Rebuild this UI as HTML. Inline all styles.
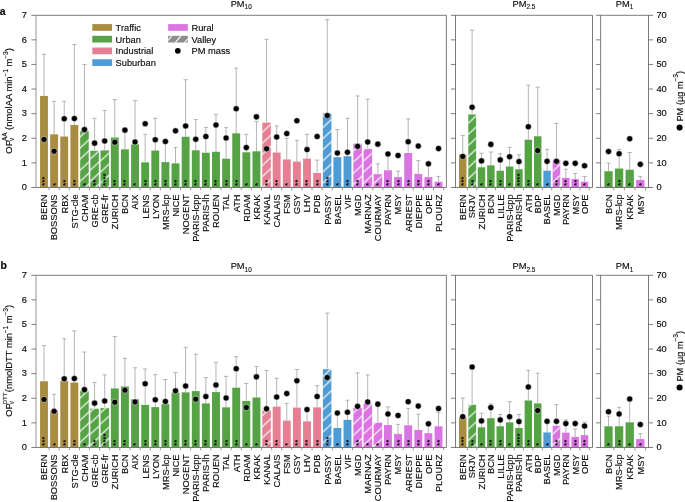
<!DOCTYPE html>
<html lang="en"><head><meta charset="utf-8"><title>Oxidative potential by site</title>
<style>html,body{margin:0;padding:0;background:#fff}body{width:685px;height:502px;overflow:hidden}svg{display:block}text{font-family:"Liberation Sans",Arial,Helvetica,sans-serif;stroke:#0c0c0c;stroke-width:0.16px}.st text{stroke:none}.sm{stroke-width:0.12px}</style></head><body>
<svg width="685" height="502" viewBox="0 0 685 502" font-size="9.7" fill="#0c0c0c">
<rect width="685" height="502" fill="#fff"/>
<g stroke="#9c9c9c" stroke-width="0.75" fill="none">
<path d="M44 95.94V54.36M41.95 54.36H46.05"/>
<path d="M54.12 134.31V101.35M52.07 101.35H56.17"/>
<path d="M64.23 136.53V101.35M62.18 101.35H66.28"/>
<path d="M74.35 124.97V44.52M72.3 44.52H76.4"/>
<path d="M84.46 130.87V64.45M82.41 64.45H86.51"/>
<path d="M94.58 150.55V118.32M92.53 118.32H96.63"/>
<path d="M104.7 150.06V110.45M102.65 110.45H106.75"/>
<path d="M114.81 137.51V99.63M112.76 99.63H116.86"/>
<path d="M124.93 149.32V130.87M122.88 130.87H126.98"/>
<path d="M135.04 144.4V100.61M132.99 100.61H137.09"/>
<path d="M145.16 162.36V134.31M143.11 134.31H147.21"/>
<path d="M155.28 150.55V118.32M153.23 118.32H157.33"/>
<path d="M165.39 162.11V140.71M163.34 140.71H167.44"/>
<path d="M175.51 163.34V147.6M173.46 147.6H177.56"/>
<path d="M185.62 136.77V79.7M183.57 79.7H187.67"/>
<path d="M195.74 150.3V119.55M193.69 119.55H197.79"/>
<path d="M205.86 152.76V127.43M203.81 127.43H207.91"/>
<path d="M215.97 151.78V114.63M213.92 114.63H218.02"/>
<path d="M226.09 158.67V127.67M224.04 127.67H228.14"/>
<path d="M236.2 133.33V68.14M234.15 68.14H238.25"/>
<path d="M246.32 152.27V134.31M244.27 134.31H248.37"/>
<path d="M256.44 151.29V121.28M254.39 121.28H258.49"/>
<path d="M266.55 122.26V39.36M264.5 39.36H268.6"/>
<path d="M276.67 152.52V125.95M274.62 125.95H278.72"/>
<path d="M286.78 159.41V138.5M284.73 138.5H288.83"/>
<path d="M296.9 161.62V140.22M294.85 140.22H298.95"/>
<path d="M307.02 158.67V134.31M304.97 134.31H309.07"/>
<path d="M317.13 172.94V160.14M315.08 160.14H319.18"/>
<path d="M327.25 113.16V19.68M325.2 19.68H329.3"/>
<path d="M337.36 157.19V129.64M335.31 129.64H339.41"/>
<path d="M347.48 156.21V118.32M345.43 118.32H349.53"/>
<path d="M357.6 143.42V95.94M355.55 95.94H359.65"/>
<path d="M367.71 148.83V99.14M365.66 99.14H369.76"/>
<path d="M377.83 173.92V163.83M375.78 163.83H379.88"/>
<path d="M387.94 170.23V154.73M385.89 154.73H389.99"/>
<path d="M398.06 177.12V171.21M396.01 171.21H400.11"/>
<path d="M408.18 153.01V118.82M406.13 118.82H410.23"/>
<path d="M418.29 173.92V160.64M416.24 160.64H420.34"/>
<path d="M428.41 177.12V164.57M426.36 164.57H430.46"/>
<path d="M438.52 181.79V176.38M436.47 176.38H440.57"/>
</g>
<rect x="40.05" y="95.94" width="7.9" height="91.51" fill="#a88c3f"/>
<rect x="50.17" y="134.31" width="7.9" height="53.14" fill="#a88c3f"/>
<rect x="60.28" y="136.53" width="7.9" height="50.92" fill="#a88c3f"/>
<rect x="70.4" y="124.97" width="7.9" height="62.48" fill="#a88c3f"/>
<rect x="79.94" y="130.87" width="9.05" height="56.58" fill="#55a345"/>
<pattern id="h10a4" width="12.07" height="11.1" patternUnits="userSpaceOnUse" patternTransform="translate(79.94 148.1)"><path d="M-12.07 22.2L24.13 -11.1M-12.07 11.1L12.07 -11.1M0 22.2L24.13 0" stroke="#f4f4f4" stroke-width="1.4" stroke-opacity="0.9" fill="none"/></pattern>
<rect x="79.94" y="130.87" width="9.05" height="56.58" fill="url(#h10a4)" stroke="#fff" stroke-width="0.5"/>
<rect x="90.05" y="150.55" width="9.05" height="36.9" fill="#55a345"/>
<pattern id="h10a5" width="12.07" height="11.1" patternUnits="userSpaceOnUse" patternTransform="translate(90.05 159.2)"><path d="M-12.07 22.2L24.13 -11.1M-12.07 11.1L12.07 -11.1M0 22.2L24.13 0" stroke="#f4f4f4" stroke-width="1.4" stroke-opacity="0.9" fill="none"/></pattern>
<rect x="90.05" y="150.55" width="9.05" height="36.9" fill="url(#h10a5)" stroke="#fff" stroke-width="0.5"/>
<rect x="100.17" y="150.06" width="9.05" height="37.39" fill="#55a345"/>
<pattern id="h10a6" width="12.07" height="11.1" patternUnits="userSpaceOnUse" patternTransform="translate(100.17 161.2)"><path d="M-12.07 22.2L24.13 -11.1M-12.07 11.1L12.07 -11.1M0 22.2L24.13 0" stroke="#f4f4f4" stroke-width="1.4" stroke-opacity="0.9" fill="none"/></pattern>
<rect x="100.17" y="150.06" width="9.05" height="37.39" fill="url(#h10a6)" stroke="#fff" stroke-width="0.5"/>
<rect x="110.86" y="137.51" width="7.9" height="49.94" fill="#55a345"/>
<rect x="120.98" y="149.32" width="7.9" height="38.13" fill="#55a345"/>
<rect x="131.09" y="144.4" width="7.9" height="43.05" fill="#55a345"/>
<rect x="141.21" y="162.36" width="7.9" height="25.09" fill="#55a345"/>
<rect x="151.33" y="150.55" width="7.9" height="36.9" fill="#55a345"/>
<rect x="161.44" y="162.11" width="7.9" height="25.34" fill="#55a345"/>
<rect x="171.56" y="163.34" width="7.9" height="24.11" fill="#55a345"/>
<rect x="181.67" y="136.77" width="7.9" height="50.68" fill="#55a345"/>
<rect x="191.79" y="150.3" width="7.9" height="37.15" fill="#55a345"/>
<rect x="201.91" y="152.76" width="7.9" height="34.69" fill="#55a345"/>
<rect x="212.02" y="151.78" width="7.9" height="35.67" fill="#55a345"/>
<rect x="222.14" y="158.67" width="7.9" height="28.78" fill="#55a345"/>
<rect x="232.25" y="133.33" width="7.9" height="54.12" fill="#55a345"/>
<rect x="242.37" y="152.27" width="7.9" height="35.18" fill="#55a345"/>
<rect x="252.49" y="151.29" width="7.9" height="36.16" fill="#55a345"/>
<rect x="262.03" y="122.26" width="9.05" height="65.19" fill="#e67f93"/>
<pattern id="h10a22" width="12.07" height="11.1" patternUnits="userSpaceOnUse" patternTransform="translate(262.03 154.55)"><path d="M-12.07 22.2L24.13 -11.1M-12.07 11.1L12.07 -11.1M0 22.2L24.13 0" stroke="#f4f4f4" stroke-width="1.4" stroke-opacity="0.9" fill="none"/></pattern>
<rect x="262.03" y="122.26" width="9.05" height="65.19" fill="url(#h10a22)" stroke="#fff" stroke-width="0.5"/>
<rect x="272.72" y="152.52" width="7.9" height="34.93" fill="#e67f93"/>
<rect x="282.83" y="159.41" width="7.9" height="28.04" fill="#e67f93"/>
<rect x="292.95" y="161.62" width="7.9" height="25.83" fill="#e67f93"/>
<rect x="303.07" y="158.67" width="7.9" height="28.78" fill="#e67f93"/>
<rect x="313.18" y="172.94" width="7.9" height="14.51" fill="#e67f93"/>
<rect x="322.72" y="113.16" width="9.05" height="74.29" fill="#4e9bd6"/>
<pattern id="h10a28" width="12.07" height="11.1" patternUnits="userSpaceOnUse" patternTransform="translate(322.72 160.9)"><path d="M-12.07 22.2L24.13 -11.1M-12.07 11.1L12.07 -11.1M0 22.2L24.13 0" stroke="#f4f4f4" stroke-width="1.4" stroke-opacity="0.9" fill="none"/></pattern>
<rect x="322.72" y="113.16" width="9.05" height="74.29" fill="url(#h10a28)" stroke="#fff" stroke-width="0.5"/>
<rect x="333.41" y="157.19" width="7.9" height="30.26" fill="#4e9bd6"/>
<rect x="343.53" y="156.21" width="7.9" height="31.24" fill="#4e9bd6"/>
<rect x="353.07" y="143.42" width="9.05" height="44.03" fill="#da74e2"/>
<pattern id="h10a31" width="12.07" height="11.1" patternUnits="userSpaceOnUse" patternTransform="translate(353.07 173.4)"><path d="M-12.07 22.2L24.13 -11.1M-12.07 11.1L12.07 -11.1M0 22.2L24.13 0" stroke="#f4f4f4" stroke-width="1.4" stroke-opacity="0.9" fill="none"/></pattern>
<rect x="353.07" y="143.42" width="9.05" height="44.03" fill="url(#h10a31)" stroke="#fff" stroke-width="0.5"/>
<rect x="363.19" y="148.83" width="9.05" height="38.62" fill="#da74e2"/>
<pattern id="h10a32" width="12.07" height="11.1" patternUnits="userSpaceOnUse" patternTransform="translate(363.19 172.4)"><path d="M-12.07 22.2L24.13 -11.1M-12.07 11.1L12.07 -11.1M0 22.2L24.13 0" stroke="#f4f4f4" stroke-width="1.4" stroke-opacity="0.9" fill="none"/></pattern>
<rect x="363.19" y="148.83" width="9.05" height="38.62" fill="url(#h10a32)" stroke="#fff" stroke-width="0.5"/>
<rect x="373.3" y="173.92" width="9.05" height="13.53" fill="#da74e2"/>
<pattern id="h10a33" width="12.07" height="11.1" patternUnits="userSpaceOnUse" patternTransform="translate(373.3 183.9)"><path d="M-12.07 22.2L24.13 -11.1M-12.07 11.1L12.07 -11.1M0 22.2L24.13 0" stroke="#f4f4f4" stroke-width="1.4" stroke-opacity="0.9" fill="none"/></pattern>
<rect x="373.3" y="173.92" width="9.05" height="13.53" fill="url(#h10a33)" stroke="#fff" stroke-width="0.5"/>
<rect x="383.99" y="170.23" width="7.9" height="17.22" fill="#da74e2"/>
<rect x="394.11" y="177.12" width="7.9" height="10.33" fill="#da74e2"/>
<rect x="404.23" y="153.01" width="7.9" height="34.44" fill="#da74e2"/>
<rect x="414.34" y="173.92" width="7.9" height="13.53" fill="#da74e2"/>
<rect x="424.46" y="177.12" width="7.9" height="10.33" fill="#da74e2"/>
<rect x="434.57" y="181.79" width="7.9" height="5.66" fill="#da74e2"/>
<g stroke="#707070" stroke-width="0.7">
<path d="M49.06 187.45v2.9"/>
<path d="M59.17 187.45v2.9"/>
<path d="M69.29 187.45v2.9"/>
<path d="M79.41 187.45v2.9"/>
<path d="M89.52 187.45v2.9"/>
<path d="M99.64 187.45v2.9"/>
<path d="M109.75 187.45v2.9"/>
<path d="M119.87 187.45v2.9"/>
<path d="M129.99 187.45v2.9"/>
<path d="M140.1 187.45v2.9"/>
<path d="M150.22 187.45v2.9"/>
<path d="M160.33 187.45v2.9"/>
<path d="M170.45 187.45v2.9"/>
<path d="M180.57 187.45v2.9"/>
<path d="M190.68 187.45v2.9"/>
<path d="M200.8 187.45v2.9"/>
<path d="M210.91 187.45v2.9"/>
<path d="M221.03 187.45v2.9"/>
<path d="M231.15 187.45v2.9"/>
<path d="M241.26 187.45v2.9"/>
<path d="M251.38 187.45v2.9"/>
<path d="M261.49 187.45v2.9"/>
<path d="M271.61 187.45v2.9"/>
<path d="M281.73 187.45v2.9"/>
<path d="M291.84 187.45v2.9"/>
<path d="M301.96 187.45v2.9"/>
<path d="M312.07 187.45v2.9"/>
<path d="M322.19 187.45v2.9"/>
<path d="M332.31 187.45v2.9"/>
<path d="M342.42 187.45v2.9"/>
<path d="M352.54 187.45v2.9"/>
<path d="M362.65 187.45v2.9"/>
<path d="M372.77 187.45v2.9"/>
<path d="M382.89 187.45v2.9"/>
<path d="M393 187.45v2.9"/>
<path d="M403.12 187.45v2.9"/>
<path d="M413.23 187.45v2.9"/>
<path d="M423.35 187.45v2.9"/>
<path d="M433.47 187.45v2.9"/>
<path d="M443.58 187.45v2.9"/>
</g>
<g class="st" font-size="7.2" font-weight="bold" letter-spacing="0.4" fill="#000">
<text transform="translate(47.45 185.78) rotate(-90)">***</text>
<text transform="translate(57.57 185.78) rotate(-90)">*</text>
<text transform="translate(67.68 185.78) rotate(-90)">**</text>
<text transform="translate(77.8 185.78) rotate(-90)">**</text>
<text transform="translate(87.91 185.78) rotate(-90)">*</text>
<text transform="translate(98.03 185.78) rotate(-90)">**</text>
<text transform="translate(108.15 185.78) rotate(-90)">****</text>
<text transform="translate(118.26 185.78) rotate(-90)">**</text>
<text transform="translate(128.38 185.78) rotate(-90)">**</text>
<text transform="translate(138.49 185.78) rotate(-90)">*</text>
<text transform="translate(148.61 185.78) rotate(-90)">**</text>
<text transform="translate(158.73 185.78) rotate(-90)">**</text>
<text transform="translate(168.84 185.78) rotate(-90)">**</text>
<text transform="translate(178.96 185.78) rotate(-90)">**</text>
<text transform="translate(189.07 185.78) rotate(-90)">**</text>
<text transform="translate(199.19 185.78) rotate(-90)">**</text>
<text transform="translate(209.31 185.78) rotate(-90)">**</text>
<text transform="translate(219.42 185.78) rotate(-90)">**</text>
<text transform="translate(229.54 185.78) rotate(-90)">**</text>
<text transform="translate(239.65 185.78) rotate(-90)">**</text>
<text transform="translate(249.77 185.78) rotate(-90)">*</text>
<text transform="translate(259.89 185.78) rotate(-90)">*</text>
<text transform="translate(270 185.78) rotate(-90)">**</text>
<text transform="translate(280.12 185.78) rotate(-90)">**</text>
<text transform="translate(290.23 185.78) rotate(-90)">*</text>
<text transform="translate(300.35 185.78) rotate(-90)">**</text>
<text transform="translate(310.47 185.78) rotate(-90)">**</text>
<text transform="translate(320.58 185.78) rotate(-90)">**</text>
<text transform="translate(330.7 185.78) rotate(-90)">***</text>
<text transform="translate(340.81 185.78) rotate(-90)">*</text>
<text transform="translate(350.93 185.78) rotate(-90)">**</text>
<text transform="translate(361.05 185.78) rotate(-90)">**</text>
<text transform="translate(371.16 185.78) rotate(-90)">*</text>
<text transform="translate(381.28 185.78) rotate(-90)">*</text>
<text transform="translate(391.39 185.78) rotate(-90)">**</text>
<text transform="translate(401.51 185.78) rotate(-90)">**</text>
<text transform="translate(411.63 185.78) rotate(-90)">**</text>
<text transform="translate(421.74 185.78) rotate(-90)">**</text>
<text transform="translate(431.86 185.78) rotate(-90)">**</text>
<text transform="translate(441.97 185.78) rotate(-90)">*</text>
</g>
<g fill="#000" stroke="#fff" stroke-width="0.5">
<circle cx="44" cy="139.48" r="3.05"/>
<circle cx="54.12" cy="151.29" r="3.05"/>
<circle cx="64.23" cy="118.82" r="3.05"/>
<circle cx="74.35" cy="118.57" r="3.05"/>
<circle cx="84.46" cy="129.64" r="3.05"/>
<circle cx="94.58" cy="143.17" r="3.05"/>
<circle cx="104.7" cy="140.96" r="3.05"/>
<circle cx="114.81" cy="142.19" r="3.05"/>
<circle cx="124.93" cy="130.13" r="3.05"/>
<circle cx="135.04" cy="141.94" r="3.05"/>
<circle cx="145.16" cy="123.74" r="3.05"/>
<circle cx="155.28" cy="139.73" r="3.05"/>
<circle cx="165.39" cy="141.45" r="3.05"/>
<circle cx="175.51" cy="130.87" r="3.05"/>
<circle cx="185.62" cy="125.95" r="3.05"/>
<circle cx="195.74" cy="139.23" r="3.05"/>
<circle cx="205.86" cy="136.53" r="3.05"/>
<circle cx="215.97" cy="124.97" r="3.05"/>
<circle cx="226.09" cy="138" r="3.05"/>
<circle cx="236.2" cy="108.73" r="3.05"/>
<circle cx="246.32" cy="147.6" r="3.05"/>
<circle cx="256.44" cy="116.85" r="3.05"/>
<circle cx="266.55" cy="148.83" r="3.05"/>
<circle cx="276.67" cy="137.02" r="3.05"/>
<circle cx="286.78" cy="133.58" r="3.05"/>
<circle cx="296.9" cy="120.78" r="3.05"/>
<circle cx="307.02" cy="149.57" r="3.05"/>
<circle cx="317.13" cy="136.53" r="3.05"/>
<circle cx="327.25" cy="115.62" r="3.05"/>
<circle cx="337.36" cy="153.01" r="3.05"/>
<circle cx="347.48" cy="152.27" r="3.05"/>
<circle cx="357.6" cy="146.37" r="3.05"/>
<circle cx="367.71" cy="141.94" r="3.05"/>
<circle cx="377.83" cy="144.15" r="3.05"/>
<circle cx="387.94" cy="153.99" r="3.05"/>
<circle cx="398.06" cy="155.47" r="3.05"/>
<circle cx="408.18" cy="141.69" r="3.05"/>
<circle cx="418.29" cy="146.12" r="3.05"/>
<circle cx="428.41" cy="163.83" r="3.05"/>
<circle cx="438.52" cy="148.58" r="3.05"/>
</g>
<g stroke="#5a5a5a" stroke-width="0.8" fill="none">
<path d="M31.4 15.3H446.4"/>
<path d="M31.4 187.45H446.4"/>
<path d="M36 15.3V187.45" stroke="#7a7a7a"/>
<path d="M446.4 15.3V187.45"/>
</g>
<g stroke="#5f5f5f" stroke-width="0.8">
<path d="M31.4 162.85H36"/>
<path d="M31.4 138.25H36"/>
<path d="M31.4 113.65H36"/>
<path d="M31.4 89.05H36"/>
<path d="M31.4 64.45H36"/>
<path d="M31.4 39.85H36"/>
</g>
<g text-anchor="end">
<text transform="translate(27 190.15) scale(0.958 1)">0</text>
<text transform="translate(27 165.55) scale(0.958 1)">1</text>
<text transform="translate(27 140.95) scale(0.958 1)">2</text>
<text transform="translate(27 116.35) scale(0.958 1)">3</text>
<text transform="translate(27 91.75) scale(0.958 1)">4</text>
<text transform="translate(27 67.15) scale(0.958 1)">5</text>
<text transform="translate(27 42.55) scale(0.958 1)">6</text>
<text transform="translate(27 17.95) scale(0.958 1)">7</text>
</g>
<g text-anchor="end">
<text transform="translate(47.35 194.45) rotate(-90) scale(0.958 1)">BERN</text>
<text transform="translate(57.47 194.45) rotate(-90) scale(0.958 1)">BOSSONS</text>
<text transform="translate(67.58 194.45) rotate(-90) scale(0.958 1)">RBX</text>
<text transform="translate(77.7 194.45) rotate(-90) scale(0.958 1)">STG-cle</text>
<text transform="translate(87.81 194.45) rotate(-90) scale(0.958 1)">CHAM</text>
<text transform="translate(97.93 194.45) rotate(-90) scale(0.958 1)">GRE-cb</text>
<text transform="translate(108.05 194.45) rotate(-90) scale(0.958 1)">GRE-fr</text>
<text transform="translate(118.16 194.45) rotate(-90) scale(0.958 1)">ZURICH</text>
<text transform="translate(128.28 194.45) rotate(-90) scale(0.958 1)">BCN</text>
<text transform="translate(138.39 194.45) rotate(-90) scale(0.958 1)">AIX</text>
<text transform="translate(148.51 194.45) rotate(-90) scale(0.958 1)">LENS</text>
<text transform="translate(158.63 194.45) rotate(-90) scale(0.958 1)">LYON</text>
<text transform="translate(168.74 194.45) rotate(-90) scale(0.958 1)">MRS-lcp</text>
<text transform="translate(178.86 194.45) rotate(-90) scale(0.958 1)">NICE</text>
<text transform="translate(188.97 194.45) rotate(-90) scale(0.958 1)">NOGENT</text>
<text transform="translate(199.09 194.45) rotate(-90) scale(0.958 1)">PARIS-lcpp</text>
<text transform="translate(209.21 194.45) rotate(-90) scale(0.958 1)">PARIS-lh</text>
<text transform="translate(219.32 194.45) rotate(-90) scale(0.958 1)">ROUEN</text>
<text transform="translate(229.44 194.45) rotate(-90) scale(0.958 1)">TAL</text>
<text transform="translate(239.55 194.45) rotate(-90) scale(0.958 1)">ATH</text>
<text transform="translate(249.67 194.45) rotate(-90) scale(0.958 1)">RDAM</text>
<text transform="translate(259.79 194.45) rotate(-90) scale(0.958 1)">KRAK</text>
<text transform="translate(269.9 194.45) rotate(-90) scale(0.958 1)">KANAL</text>
<text transform="translate(280.02 194.45) rotate(-90) scale(0.958 1)">CALAIS</text>
<text transform="translate(290.13 194.45) rotate(-90) scale(0.958 1)">FSM</text>
<text transform="translate(300.25 194.45) rotate(-90) scale(0.958 1)">GSY</text>
<text transform="translate(310.37 194.45) rotate(-90) scale(0.958 1)">LHV</text>
<text transform="translate(320.48 194.45) rotate(-90) scale(0.958 1)">PDB</text>
<text transform="translate(330.6 194.45) rotate(-90) scale(0.958 1)">PASSY</text>
<text transform="translate(340.71 194.45) rotate(-90) scale(0.958 1)">BASEL</text>
<text transform="translate(350.83 194.45) rotate(-90) scale(0.958 1)">VIF</text>
<text transform="translate(360.95 194.45) rotate(-90) scale(0.958 1)">MGD</text>
<text transform="translate(371.06 194.45) rotate(-90) scale(0.958 1)">MARNAZ</text>
<text transform="translate(381.18 194.45) rotate(-90) scale(0.958 1)">COURMAY</text>
<text transform="translate(391.29 194.45) rotate(-90) scale(0.958 1)">PAYRN</text>
<text transform="translate(401.41 194.45) rotate(-90) scale(0.958 1)">MSY</text>
<text transform="translate(411.53 194.45) rotate(-90) scale(0.958 1)">ARREST</text>
<text transform="translate(421.64 194.45) rotate(-90) scale(0.958 1)">DIEPPE</text>
<text transform="translate(431.76 194.45) rotate(-90) scale(0.958 1)">OPE</text>
<text transform="translate(441.87 194.45) rotate(-90) scale(0.958 1)">PLOURZ</text>
</g>
<text transform="translate(241.2 6.7) scale(0.958 1)" text-anchor="middle">PM<tspan class="sm" font-size="6.7" dy="2.5">10</tspan></text>
<g stroke="#9c9c9c" stroke-width="0.75" fill="none">
<path d="M462.75 154.49V135.54M460.7 135.54H464.8"/>
<path d="M472.12 114.14V30.01M470.07 30.01H474.17"/>
<path d="M481.49 167.28V153.26M479.44 153.26H483.54"/>
<path d="M490.86 165.31V152.03M488.81 152.03H492.91"/>
<path d="M500.23 170.72V153.75M498.18 153.75H502.28"/>
<path d="M509.6 166.54V147.35M507.55 147.35H511.65"/>
<path d="M518.97 169.25V154.73M516.92 154.73H521.02"/>
<path d="M528.34 139.73V85.11M526.29 85.11H530.39"/>
<path d="M537.71 136.28V87.08M535.66 87.08H539.76"/>
<path d="M547.08 170.72V149.32M545.03 149.32H549.13"/>
<path d="M556.45 159.65V123.49M554.4 123.49H558.5"/>
<path d="M565.82 177.86V169.25M563.77 169.25H567.87"/>
<path d="M575.19 179.09V173.43M573.14 173.43H577.24"/>
<path d="M584.56 181.79V176.38M582.51 176.38H586.61"/>
</g>
<rect x="459.02" y="154.49" width="7.45" height="32.96" fill="#a88c3f"/>
<rect x="468.02" y="114.14" width="8.2" height="73.31" fill="#55a345"/>
<pattern id="h25a1" width="12.07" height="11.1" patternUnits="userSpaceOnUse" patternTransform="translate(468.02 145.6)"><path d="M-12.07 22.2L24.13 -11.1M-12.07 11.1L12.07 -11.1M0 22.2L24.13 0" stroke="#f4f4f4" stroke-width="1.4" stroke-opacity="0.9" fill="none"/></pattern>
<rect x="468.02" y="114.14" width="8.2" height="73.31" fill="url(#h25a1)" stroke="#fff" stroke-width="0.5"/>
<rect x="477.76" y="167.28" width="7.45" height="20.17" fill="#55a345"/>
<rect x="487.13" y="165.31" width="7.45" height="22.14" fill="#55a345"/>
<rect x="496.5" y="170.72" width="7.45" height="16.73" fill="#55a345"/>
<rect x="505.88" y="166.54" width="7.45" height="20.91" fill="#55a345"/>
<rect x="515.25" y="169.25" width="7.45" height="18.2" fill="#55a345"/>
<rect x="524.62" y="139.73" width="7.45" height="47.72" fill="#55a345"/>
<rect x="533.99" y="136.28" width="7.45" height="51.17" fill="#55a345"/>
<rect x="543.36" y="170.72" width="7.45" height="16.73" fill="#4e9bd6"/>
<rect x="552.35" y="159.65" width="8.2" height="27.8" fill="#da74e2"/>
<pattern id="h25a10" width="12.07" height="11.1" patternUnits="userSpaceOnUse" patternTransform="translate(552.35 171.5)"><path d="M-12.07 22.2L24.13 -11.1M-12.07 11.1L12.07 -11.1M0 22.2L24.13 0" stroke="#f4f4f4" stroke-width="1.4" stroke-opacity="0.9" fill="none"/></pattern>
<rect x="552.35" y="159.65" width="8.2" height="27.8" fill="url(#h25a10)" stroke="#fff" stroke-width="0.5"/>
<rect x="562.09" y="177.86" width="7.45" height="9.59" fill="#da74e2"/>
<rect x="571.47" y="179.09" width="7.45" height="8.36" fill="#da74e2"/>
<rect x="580.83" y="181.79" width="7.45" height="5.66" fill="#da74e2"/>
<g stroke="#707070" stroke-width="0.7">
<path d="M467.44 187.45v2.9"/>
<path d="M476.81 187.45v2.9"/>
<path d="M486.18 187.45v2.9"/>
<path d="M495.55 187.45v2.9"/>
<path d="M504.92 187.45v2.9"/>
<path d="M514.28 187.45v2.9"/>
<path d="M523.65 187.45v2.9"/>
<path d="M533.02 187.45v2.9"/>
<path d="M542.39 187.45v2.9"/>
<path d="M551.76 187.45v2.9"/>
<path d="M561.13 187.45v2.9"/>
<path d="M570.5 187.45v2.9"/>
<path d="M579.88 187.45v2.9"/>
<path d="M589.25 187.45v2.9"/>
</g>
<g class="st" font-size="7.2" font-weight="bold" letter-spacing="0.4" fill="#000">
<text transform="translate(466.2 185.78) rotate(-90)">***</text>
<text transform="translate(475.57 185.78) rotate(-90)">**</text>
<text transform="translate(484.94 185.78) rotate(-90)">*</text>
<text transform="translate(494.31 185.78) rotate(-90)">**</text>
<text transform="translate(503.68 185.78) rotate(-90)">**</text>
<text transform="translate(513.05 185.78) rotate(-90)">*</text>
<text transform="translate(522.42 185.78) rotate(-90)">****</text>
<text transform="translate(531.79 185.78) rotate(-90)">**</text>
<text transform="translate(541.16 185.78) rotate(-90)">*</text>
<text transform="translate(550.53 185.78) rotate(-90)">*</text>
<text transform="translate(559.9 185.78) rotate(-90)">**</text>
<text transform="translate(569.27 185.78) rotate(-90)">**</text>
<text transform="translate(578.64 185.78) rotate(-90)">**</text>
<text transform="translate(588.01 185.78) rotate(-90)">*</text>
</g>
<g fill="#000" stroke="#fff" stroke-width="0.5">
<circle cx="462.75" cy="156.45" r="3.05"/>
<circle cx="472.12" cy="107.25" r="3.05"/>
<circle cx="481.49" cy="160.88" r="3.05"/>
<circle cx="490.86" cy="144.4" r="3.05"/>
<circle cx="500.23" cy="159.9" r="3.05"/>
<circle cx="509.6" cy="156.7" r="3.05"/>
<circle cx="518.97" cy="161.62" r="3.05"/>
<circle cx="528.34" cy="126.69" r="3.05"/>
<circle cx="537.71" cy="150.55" r="3.05"/>
<circle cx="547.08" cy="161.37" r="3.05"/>
<circle cx="556.45" cy="161.37" r="3.05"/>
<circle cx="565.82" cy="163.34" r="3.05"/>
<circle cx="575.19" cy="163.34" r="3.05"/>
<circle cx="584.56" cy="165.8" r="3.05"/>
</g>
<g stroke="#5a5a5a" stroke-width="0.8" fill="none">
<path d="M450.9 15.3H592.5"/>
<path d="M450.9 187.45H592.5"/>
<path d="M455.5 15.3V187.45"/>
<path d="M592.5 15.3V187.45"/>
</g>
<g stroke="#5f5f5f" stroke-width="0.8">
<path d="M450.9 162.85H455.5"/>
<path d="M450.9 138.25H455.5"/>
<path d="M450.9 113.65H455.5"/>
<path d="M450.9 89.05H455.5"/>
<path d="M450.9 64.45H455.5"/>
<path d="M450.9 39.85H455.5"/>
</g>
<g text-anchor="end">
<text transform="translate(466.1 194.45) rotate(-90) scale(0.958 1)">BERN</text>
<text transform="translate(475.47 194.45) rotate(-90) scale(0.958 1)">SRJV</text>
<text transform="translate(484.84 194.45) rotate(-90) scale(0.958 1)">ZURICH</text>
<text transform="translate(494.21 194.45) rotate(-90) scale(0.958 1)">BCN</text>
<text transform="translate(503.58 194.45) rotate(-90) scale(0.958 1)">LILLE</text>
<text transform="translate(512.95 194.45) rotate(-90) scale(0.958 1)">PARIS-lcpp</text>
<text transform="translate(522.32 194.45) rotate(-90) scale(0.958 1)">PARIS-lh</text>
<text transform="translate(531.69 194.45) rotate(-90) scale(0.958 1)">ATH</text>
<text transform="translate(541.06 194.45) rotate(-90) scale(0.958 1)">BDP</text>
<text transform="translate(550.43 194.45) rotate(-90) scale(0.958 1)">BASEL</text>
<text transform="translate(559.8 194.45) rotate(-90) scale(0.958 1)">MGD</text>
<text transform="translate(569.17 194.45) rotate(-90) scale(0.958 1)">PAYRN</text>
<text transform="translate(578.54 194.45) rotate(-90) scale(0.958 1)">MSY</text>
<text transform="translate(587.91 194.45) rotate(-90) scale(0.958 1)">OPE</text>
</g>
<text transform="translate(524 6.7) scale(0.958 1)" text-anchor="middle">PM<tspan class="sm" font-size="6.7" dy="2.5">2.5</tspan></text>
<g stroke="#9c9c9c" stroke-width="0.75" fill="none">
<path d="M608.5 171.21V163.1M606.45 163.1H610.55"/>
<path d="M619.1 168.51V149.32M617.05 149.32H621.15"/>
<path d="M629.7 169.74V152.52M627.65 152.52H631.75"/>
<path d="M640.3 180.07V176.38M638.25 176.38H642.35"/>
</g>
<rect x="604.35" y="171.21" width="8.3" height="16.24" fill="#55a345"/>
<rect x="614.95" y="168.51" width="8.3" height="18.94" fill="#55a345"/>
<rect x="625.55" y="169.74" width="8.3" height="17.71" fill="#55a345"/>
<rect x="636.15" y="180.07" width="8.3" height="7.38" fill="#da74e2"/>
<g stroke="#707070" stroke-width="0.7">
<path d="M613.8 187.45v2.9"/>
<path d="M624.4 187.45v2.9"/>
<path d="M635 187.45v2.9"/>
<path d="M645.6 187.45v2.9"/>
</g>
<g class="st" font-size="7.2" font-weight="bold" letter-spacing="0.4" fill="#000">
<text transform="translate(611.95 185.78) rotate(-90)">*</text>
<text transform="translate(622.55 185.78) rotate(-90)">**</text>
<text transform="translate(633.15 185.78) rotate(-90)">*</text>
<text transform="translate(643.75 185.78) rotate(-90)">*</text>
</g>
<g fill="#000" stroke="#fff" stroke-width="0.5">
<circle cx="608.5" cy="151.53" r="3.05"/>
<circle cx="619.1" cy="153.75" r="3.05"/>
<circle cx="629.7" cy="138.74" r="3.05"/>
<circle cx="640.3" cy="164.33" r="3.05"/>
</g>
<g stroke="#5a5a5a" stroke-width="0.8" fill="none">
<path d="M596 15.3H653.1"/>
<path d="M596 187.45H653.1"/>
<path d="M600.6 15.3V187.45"/>
<path d="M648.5 15.3V187.45"/>
</g>
<g stroke="#5f5f5f" stroke-width="0.8">
<path d="M596 162.85H600.6"/>
<path d="M648.5 162.85H653.1"/>
<path d="M596 138.25H600.6"/>
<path d="M648.5 138.25H653.1"/>
<path d="M596 113.65H600.6"/>
<path d="M648.5 113.65H653.1"/>
<path d="M596 89.05H600.6"/>
<path d="M648.5 89.05H653.1"/>
<path d="M596 64.45H600.6"/>
<path d="M648.5 64.45H653.1"/>
<path d="M596 39.85H600.6"/>
<path d="M648.5 39.85H653.1"/>
</g>
<text transform="translate(656.4 190.15) scale(0.958 1)">0</text>
<text transform="translate(656.4 165.55) scale(0.958 1)">10</text>
<text transform="translate(656.4 140.95) scale(0.958 1)">20</text>
<text transform="translate(656.4 116.35) scale(0.958 1)">30</text>
<text transform="translate(656.4 91.75) scale(0.958 1)">40</text>
<text transform="translate(656.4 67.15) scale(0.958 1)">50</text>
<text transform="translate(656.4 42.55) scale(0.958 1)">60</text>
<text transform="translate(656.4 17.95) scale(0.958 1)">70</text>
<g text-anchor="end">
<text transform="translate(611.85 194.45) rotate(-90) scale(0.958 1)">BCN</text>
<text transform="translate(622.45 194.45) rotate(-90) scale(0.958 1)">MRS-lcp</text>
<text transform="translate(633.05 194.45) rotate(-90) scale(0.958 1)">KRAK</text>
<text transform="translate(643.65 194.45) rotate(-90) scale(0.958 1)">MSY</text>
</g>
<text transform="translate(624.55 6.7) scale(0.958 1)" text-anchor="middle">PM<tspan class="sm" font-size="6.7" dy="2.5">1</tspan></text>
<text x="-0.3" y="14.9" font-size="10.4" font-weight="bold" fill="#000">a</text>
<text transform="translate(12 100.88) rotate(-90) scale(0.976 1)" text-anchor="middle">OP<tspan class="sm" font-size="6.4" dy="-4.9" dx="-0.9">AA</tspan><tspan class="sm" font-size="6.4" dy="6.6" dx="-8.54">v</tspan><tspan dy="-1.7" dx="5.34"> (nmolAA min</tspan><tspan class="sm" font-size="6.2" dy="-4.5">−</tspan><tspan class="sm" font-size="7" dy="0.2">1</tspan><tspan dy="4.3"> m</tspan><tspan class="sm" font-size="6.2" dy="-4.5">−</tspan><tspan class="sm" font-size="7" dy="0.2">3</tspan><tspan dy="4.3">)</tspan></text>
<circle cx="679.6" cy="127.58" r="3.05" fill="#000"/>
<text transform="translate(682.7 121.58) rotate(-90) scale(0.958 1)">PM (µg m<tspan class="sm" font-size="6.2" dy="-4.5">−</tspan><tspan class="sm" font-size="7" dy="0.2">3</tspan><tspan dy="4.3">)</tspan></text>
<g stroke="#9c9c9c" stroke-width="0.75" fill="none">
<path d="M44 381.28V345.61M41.95 345.61H46.05"/>
<path d="M54.12 410.55V394.31M52.07 394.31H56.17"/>
<path d="M64.23 381.03V338.72M62.18 338.72H66.28"/>
<path d="M74.35 382.51V330.85M72.3 330.85H76.4"/>
<path d="M84.46 390.87V352M82.41 352H86.51"/>
<path d="M94.58 408.34V382.51M92.53 382.51H96.63"/>
<path d="M104.7 407.84V374.88M102.65 374.88H106.75"/>
<path d="M114.81 388.41V336.5M112.76 336.5H116.86"/>
<path d="M124.93 386.44V358.4M122.88 358.4H126.98"/>
<path d="M135.04 399.23V367.75M132.99 367.75H137.09"/>
<path d="M145.16 404.89V368.98M143.11 368.98H147.21"/>
<path d="M155.28 407.11V374.63M153.23 374.63H157.33"/>
<path d="M165.39 404.15V379.55M163.34 379.55H167.44"/>
<path d="M175.51 392.59V372.67M173.46 372.67H177.56"/>
<path d="M185.62 392.35V347.33M183.57 347.33H187.67"/>
<path d="M195.74 391.12V354.22M193.69 354.22H197.79"/>
<path d="M205.86 403.42V377.59M203.81 377.59H207.91"/>
<path d="M215.97 392.1V362.33M213.92 362.33H218.02"/>
<path d="M226.09 407.35V376.36M224.04 376.36H228.14"/>
<path d="M236.2 387.67V356.68M234.15 356.68H238.25"/>
<path d="M246.32 400.96V383.49M244.27 383.49H248.37"/>
<path d="M256.44 397.51V366.52M254.39 366.52H258.49"/>
<path d="M266.55 410.3V370.45M264.5 370.45H268.6"/>
<path d="M276.67 406.61V378.32M274.62 378.32H278.72"/>
<path d="M286.78 420.64V403.42M284.73 403.42H288.83"/>
<path d="M296.9 407.6V369.47M294.85 369.47H298.95"/>
<path d="M307.02 421.37V411.78M304.97 411.78H309.07"/>
<path d="M317.13 407.35V385.7M315.08 385.7H319.18"/>
<path d="M327.25 368.98V313.13M325.2 313.13H329.3"/>
<path d="M337.36 428.02V413.5M335.31 413.5H339.41"/>
<path d="M347.48 419.9V400.22M345.43 400.22H349.53"/>
<path d="M357.6 407.6V372.91M355.55 372.91H359.65"/>
<path d="M367.71 403.66V374.88M365.66 374.88H369.76"/>
<path d="M377.83 422.36V405.63M375.78 405.63H379.88"/>
<path d="M387.94 425.06V406.86M385.89 406.86H389.99"/>
<path d="M398.06 433.92V424.33M396.01 424.33H400.11"/>
<path d="M408.18 425.31V408.34M406.13 408.34H410.23"/>
<path d="M418.29 429.98V414.24M416.24 414.24H420.34"/>
<path d="M428.41 433.18V425.31M426.36 425.31H430.46"/>
<path d="M438.52 426.29V412.76M436.47 412.76H440.57"/>
</g>
<rect x="40.05" y="381.28" width="7.9" height="66.17" fill="#a88c3f"/>
<rect x="50.17" y="410.55" width="7.9" height="36.9" fill="#a88c3f"/>
<rect x="60.28" y="381.03" width="7.9" height="66.42" fill="#a88c3f"/>
<rect x="70.4" y="382.51" width="7.9" height="64.94" fill="#a88c3f"/>
<rect x="79.94" y="390.87" width="9.05" height="56.58" fill="#55a345"/>
<pattern id="h10b4" width="12.07" height="11.1" patternUnits="userSpaceOnUse" patternTransform="translate(79.94 431.4)"><path d="M-12.07 22.2L24.13 -11.1M-12.07 11.1L12.07 -11.1M0 22.2L24.13 0" stroke="#f4f4f4" stroke-width="1.4" stroke-opacity="0.9" fill="none"/></pattern>
<rect x="79.94" y="390.87" width="9.05" height="56.58" fill="url(#h10b4)" stroke="#fff" stroke-width="0.5"/>
<rect x="90.05" y="408.34" width="9.05" height="39.11" fill="#55a345"/>
<pattern id="h10b5" width="12.07" height="11.1" patternUnits="userSpaceOnUse" patternTransform="translate(90.05 434.4)"><path d="M-12.07 22.2L24.13 -11.1M-12.07 11.1L12.07 -11.1M0 22.2L24.13 0" stroke="#f4f4f4" stroke-width="1.4" stroke-opacity="0.9" fill="none"/></pattern>
<rect x="90.05" y="408.34" width="9.05" height="39.11" fill="url(#h10b5)" stroke="#fff" stroke-width="0.5"/>
<rect x="100.17" y="407.84" width="9.05" height="39.61" fill="#55a345"/>
<pattern id="h10b6" width="12.07" height="11.1" patternUnits="userSpaceOnUse" patternTransform="translate(100.17 435.4)"><path d="M-12.07 22.2L24.13 -11.1M-12.07 11.1L12.07 -11.1M0 22.2L24.13 0" stroke="#f4f4f4" stroke-width="1.4" stroke-opacity="0.9" fill="none"/></pattern>
<rect x="100.17" y="407.84" width="9.05" height="39.61" fill="url(#h10b6)" stroke="#fff" stroke-width="0.5"/>
<rect x="110.86" y="388.41" width="7.9" height="59.04" fill="#55a345"/>
<rect x="120.98" y="386.44" width="7.9" height="61.01" fill="#55a345"/>
<rect x="131.09" y="399.23" width="7.9" height="48.22" fill="#55a345"/>
<rect x="141.21" y="404.89" width="7.9" height="42.56" fill="#55a345"/>
<rect x="151.33" y="407.11" width="7.9" height="40.34" fill="#55a345"/>
<rect x="161.44" y="404.15" width="7.9" height="43.3" fill="#55a345"/>
<rect x="171.56" y="392.59" width="7.9" height="54.86" fill="#55a345"/>
<rect x="181.67" y="392.35" width="7.9" height="55.1" fill="#55a345"/>
<rect x="191.79" y="391.12" width="7.9" height="56.33" fill="#55a345"/>
<rect x="201.91" y="403.42" width="7.9" height="44.03" fill="#55a345"/>
<rect x="212.02" y="392.1" width="7.9" height="55.35" fill="#55a345"/>
<rect x="222.14" y="407.35" width="7.9" height="40.1" fill="#55a345"/>
<rect x="232.25" y="387.67" width="7.9" height="59.78" fill="#55a345"/>
<rect x="242.37" y="400.96" width="7.9" height="46.49" fill="#55a345"/>
<rect x="252.49" y="397.51" width="7.9" height="49.94" fill="#55a345"/>
<rect x="262.03" y="410.3" width="9.05" height="37.15" fill="#e67f93"/>
<pattern id="h10b22" width="12.07" height="11.1" patternUnits="userSpaceOnUse" patternTransform="translate(262.03 426.9)"><path d="M-12.07 22.2L24.13 -11.1M-12.07 11.1L12.07 -11.1M0 22.2L24.13 0" stroke="#f4f4f4" stroke-width="1.4" stroke-opacity="0.9" fill="none"/></pattern>
<rect x="262.03" y="410.3" width="9.05" height="37.15" fill="url(#h10b22)" stroke="#fff" stroke-width="0.5"/>
<rect x="272.72" y="406.61" width="7.9" height="40.84" fill="#e67f93"/>
<rect x="282.83" y="420.64" width="7.9" height="26.81" fill="#e67f93"/>
<rect x="292.95" y="407.6" width="7.9" height="39.85" fill="#e67f93"/>
<rect x="303.07" y="421.37" width="7.9" height="26.08" fill="#e67f93"/>
<rect x="313.18" y="407.35" width="7.9" height="40.1" fill="#e67f93"/>
<rect x="322.72" y="368.98" width="9.05" height="78.47" fill="#4e9bd6"/>
<pattern id="h10b28" width="12.07" height="11.1" patternUnits="userSpaceOnUse" patternTransform="translate(322.72 421)"><path d="M-12.07 22.2L24.13 -11.1M-12.07 11.1L12.07 -11.1M0 22.2L24.13 0" stroke="#f4f4f4" stroke-width="1.4" stroke-opacity="0.9" fill="none"/></pattern>
<rect x="322.72" y="368.98" width="9.05" height="78.47" fill="url(#h10b28)" stroke="#fff" stroke-width="0.5"/>
<rect x="333.41" y="428.02" width="7.9" height="19.43" fill="#4e9bd6"/>
<rect x="343.53" y="419.9" width="7.9" height="27.55" fill="#4e9bd6"/>
<rect x="353.07" y="407.6" width="9.05" height="39.85" fill="#da74e2"/>
<pattern id="h10b31" width="12.07" height="11.1" patternUnits="userSpaceOnUse" patternTransform="translate(353.07 435.5)"><path d="M-12.07 22.2L24.13 -11.1M-12.07 11.1L12.07 -11.1M0 22.2L24.13 0" stroke="#f4f4f4" stroke-width="1.4" stroke-opacity="0.9" fill="none"/></pattern>
<rect x="353.07" y="407.6" width="9.05" height="39.85" fill="url(#h10b31)" stroke="#fff" stroke-width="0.5"/>
<rect x="363.19" y="403.66" width="9.05" height="43.79" fill="#da74e2"/>
<pattern id="h10b32" width="12.07" height="11.1" patternUnits="userSpaceOnUse" patternTransform="translate(363.19 434.2)"><path d="M-12.07 22.2L24.13 -11.1M-12.07 11.1L12.07 -11.1M0 22.2L24.13 0" stroke="#f4f4f4" stroke-width="1.4" stroke-opacity="0.9" fill="none"/></pattern>
<rect x="363.19" y="403.66" width="9.05" height="43.79" fill="url(#h10b32)" stroke="#fff" stroke-width="0.5"/>
<rect x="373.3" y="422.36" width="9.05" height="25.09" fill="#da74e2"/>
<pattern id="h10b33" width="12.07" height="11.1" patternUnits="userSpaceOnUse" patternTransform="translate(373.3 435.7)"><path d="M-12.07 22.2L24.13 -11.1M-12.07 11.1L12.07 -11.1M0 22.2L24.13 0" stroke="#f4f4f4" stroke-width="1.4" stroke-opacity="0.9" fill="none"/></pattern>
<rect x="373.3" y="422.36" width="9.05" height="25.09" fill="url(#h10b33)" stroke="#fff" stroke-width="0.5"/>
<rect x="383.99" y="425.06" width="7.9" height="22.39" fill="#da74e2"/>
<rect x="394.11" y="433.92" width="7.9" height="13.53" fill="#da74e2"/>
<rect x="404.23" y="425.31" width="7.9" height="22.14" fill="#da74e2"/>
<rect x="414.34" y="429.98" width="7.9" height="17.47" fill="#da74e2"/>
<rect x="424.46" y="433.18" width="7.9" height="14.27" fill="#da74e2"/>
<rect x="434.57" y="426.29" width="7.9" height="21.16" fill="#da74e2"/>
<g stroke="#707070" stroke-width="0.7">
<path d="M49.06 447.45v2.9"/>
<path d="M59.17 447.45v2.9"/>
<path d="M69.29 447.45v2.9"/>
<path d="M79.41 447.45v2.9"/>
<path d="M89.52 447.45v2.9"/>
<path d="M99.64 447.45v2.9"/>
<path d="M109.75 447.45v2.9"/>
<path d="M119.87 447.45v2.9"/>
<path d="M129.99 447.45v2.9"/>
<path d="M140.1 447.45v2.9"/>
<path d="M150.22 447.45v2.9"/>
<path d="M160.33 447.45v2.9"/>
<path d="M170.45 447.45v2.9"/>
<path d="M180.57 447.45v2.9"/>
<path d="M190.68 447.45v2.9"/>
<path d="M200.8 447.45v2.9"/>
<path d="M210.91 447.45v2.9"/>
<path d="M221.03 447.45v2.9"/>
<path d="M231.15 447.45v2.9"/>
<path d="M241.26 447.45v2.9"/>
<path d="M251.38 447.45v2.9"/>
<path d="M261.49 447.45v2.9"/>
<path d="M271.61 447.45v2.9"/>
<path d="M281.73 447.45v2.9"/>
<path d="M291.84 447.45v2.9"/>
<path d="M301.96 447.45v2.9"/>
<path d="M312.07 447.45v2.9"/>
<path d="M322.19 447.45v2.9"/>
<path d="M332.31 447.45v2.9"/>
<path d="M342.42 447.45v2.9"/>
<path d="M352.54 447.45v2.9"/>
<path d="M362.65 447.45v2.9"/>
<path d="M372.77 447.45v2.9"/>
<path d="M382.89 447.45v2.9"/>
<path d="M393 447.45v2.9"/>
<path d="M403.12 447.45v2.9"/>
<path d="M413.23 447.45v2.9"/>
<path d="M423.35 447.45v2.9"/>
<path d="M433.47 447.45v2.9"/>
<path d="M443.58 447.45v2.9"/>
</g>
<g class="st" font-size="7.2" font-weight="bold" letter-spacing="0.4" fill="#000">
<text transform="translate(47.45 445.78) rotate(-90)">***</text>
<text transform="translate(57.57 445.78) rotate(-90)">*</text>
<text transform="translate(67.68 445.78) rotate(-90)">**</text>
<text transform="translate(77.8 445.78) rotate(-90)">**</text>
<text transform="translate(87.91 445.78) rotate(-90)">*</text>
<text transform="translate(98.03 445.78) rotate(-90)">**</text>
<text transform="translate(108.15 445.78) rotate(-90)">****</text>
<text transform="translate(118.26 445.78) rotate(-90)">**</text>
<text transform="translate(128.38 445.78) rotate(-90)">**</text>
<text transform="translate(138.49 445.78) rotate(-90)">*</text>
<text transform="translate(148.61 445.78) rotate(-90)">**</text>
<text transform="translate(158.73 445.78) rotate(-90)">**</text>
<text transform="translate(168.84 445.78) rotate(-90)">**</text>
<text transform="translate(178.96 445.78) rotate(-90)">**</text>
<text transform="translate(189.07 445.78) rotate(-90)">**</text>
<text transform="translate(199.19 445.78) rotate(-90)">**</text>
<text transform="translate(209.31 445.78) rotate(-90)">**</text>
<text transform="translate(219.42 445.78) rotate(-90)">**</text>
<text transform="translate(229.54 445.78) rotate(-90)">**</text>
<text transform="translate(239.65 445.78) rotate(-90)">**</text>
<text transform="translate(249.77 445.78) rotate(-90)">*</text>
<text transform="translate(259.89 445.78) rotate(-90)">*</text>
<text transform="translate(270 445.78) rotate(-90)">**</text>
<text transform="translate(280.12 445.78) rotate(-90)">**</text>
<text transform="translate(290.23 445.78) rotate(-90)">*</text>
<text transform="translate(300.35 445.78) rotate(-90)">**</text>
<text transform="translate(310.47 445.78) rotate(-90)">**</text>
<text transform="translate(320.58 445.78) rotate(-90)">**</text>
<text transform="translate(330.7 445.78) rotate(-90)">***</text>
<text transform="translate(340.81 445.78) rotate(-90)">*</text>
<text transform="translate(350.93 445.78) rotate(-90)">**</text>
<text transform="translate(361.05 445.78) rotate(-90)">**</text>
<text transform="translate(371.16 445.78) rotate(-90)">*</text>
<text transform="translate(381.28 445.78) rotate(-90)">*</text>
<text transform="translate(391.39 445.78) rotate(-90)">**</text>
<text transform="translate(401.51 445.78) rotate(-90)">**</text>
<text transform="translate(411.63 445.78) rotate(-90)">**</text>
<text transform="translate(421.74 445.78) rotate(-90)">**</text>
<text transform="translate(431.86 445.78) rotate(-90)">**</text>
<text transform="translate(441.97 445.78) rotate(-90)">**</text>
</g>
<g fill="#000" stroke="#fff" stroke-width="0.5">
<circle cx="44" cy="399.48" r="3.05"/>
<circle cx="54.12" cy="411.29" r="3.05"/>
<circle cx="64.23" cy="378.82" r="3.05"/>
<circle cx="74.35" cy="378.57" r="3.05"/>
<circle cx="84.46" cy="389.64" r="3.05"/>
<circle cx="94.58" cy="403.17" r="3.05"/>
<circle cx="104.7" cy="400.96" r="3.05"/>
<circle cx="114.81" cy="402.19" r="3.05"/>
<circle cx="124.93" cy="390.13" r="3.05"/>
<circle cx="135.04" cy="401.94" r="3.05"/>
<circle cx="145.16" cy="383.74" r="3.05"/>
<circle cx="155.28" cy="399.73" r="3.05"/>
<circle cx="165.39" cy="401.45" r="3.05"/>
<circle cx="175.51" cy="390.87" r="3.05"/>
<circle cx="185.62" cy="385.95" r="3.05"/>
<circle cx="195.74" cy="399.23" r="3.05"/>
<circle cx="205.86" cy="396.53" r="3.05"/>
<circle cx="215.97" cy="384.97" r="3.05"/>
<circle cx="226.09" cy="398" r="3.05"/>
<circle cx="236.2" cy="368.73" r="3.05"/>
<circle cx="246.32" cy="407.6" r="3.05"/>
<circle cx="256.44" cy="376.85" r="3.05"/>
<circle cx="266.55" cy="408.83" r="3.05"/>
<circle cx="276.67" cy="397.02" r="3.05"/>
<circle cx="286.78" cy="393.58" r="3.05"/>
<circle cx="296.9" cy="380.78" r="3.05"/>
<circle cx="307.02" cy="409.57" r="3.05"/>
<circle cx="317.13" cy="396.53" r="3.05"/>
<circle cx="327.25" cy="377.59" r="3.05"/>
<circle cx="337.36" cy="413.01" r="3.05"/>
<circle cx="347.48" cy="412.27" r="3.05"/>
<circle cx="357.6" cy="406.37" r="3.05"/>
<circle cx="367.71" cy="401.94" r="3.05"/>
<circle cx="377.83" cy="404.15" r="3.05"/>
<circle cx="387.94" cy="413.99" r="3.05"/>
<circle cx="398.06" cy="415.47" r="3.05"/>
<circle cx="408.18" cy="401.69" r="3.05"/>
<circle cx="418.29" cy="406.12" r="3.05"/>
<circle cx="428.41" cy="423.83" r="3.05"/>
<circle cx="438.52" cy="408.58" r="3.05"/>
</g>
<g stroke="#5a5a5a" stroke-width="0.8" fill="none">
<path d="M31.4 275.3H446.4"/>
<path d="M31.4 447.45H446.4"/>
<path d="M36 275.3V447.45" stroke="#7a7a7a"/>
<path d="M446.4 275.3V447.45"/>
</g>
<g stroke="#5f5f5f" stroke-width="0.8">
<path d="M31.4 422.85H36"/>
<path d="M31.4 398.25H36"/>
<path d="M31.4 373.65H36"/>
<path d="M31.4 349.05H36"/>
<path d="M31.4 324.45H36"/>
<path d="M31.4 299.85H36"/>
</g>
<g text-anchor="end">
<text transform="translate(27 450.15) scale(0.958 1)">0</text>
<text transform="translate(27 425.55) scale(0.958 1)">1</text>
<text transform="translate(27 400.95) scale(0.958 1)">2</text>
<text transform="translate(27 376.35) scale(0.958 1)">3</text>
<text transform="translate(27 351.75) scale(0.958 1)">4</text>
<text transform="translate(27 327.15) scale(0.958 1)">5</text>
<text transform="translate(27 302.55) scale(0.958 1)">6</text>
<text transform="translate(27 277.95) scale(0.958 1)">7</text>
</g>
<g text-anchor="end">
<text transform="translate(47.35 454.45) rotate(-90) scale(0.958 1)">BERN</text>
<text transform="translate(57.47 454.45) rotate(-90) scale(0.958 1)">BOSSONS</text>
<text transform="translate(67.58 454.45) rotate(-90) scale(0.958 1)">RBX</text>
<text transform="translate(77.7 454.45) rotate(-90) scale(0.958 1)">STG-cle</text>
<text transform="translate(87.81 454.45) rotate(-90) scale(0.958 1)">CHAM</text>
<text transform="translate(97.93 454.45) rotate(-90) scale(0.958 1)">GRE-cb</text>
<text transform="translate(108.05 454.45) rotate(-90) scale(0.958 1)">GRE-fr</text>
<text transform="translate(118.16 454.45) rotate(-90) scale(0.958 1)">ZURICH</text>
<text transform="translate(128.28 454.45) rotate(-90) scale(0.958 1)">BCN</text>
<text transform="translate(138.39 454.45) rotate(-90) scale(0.958 1)">AIX</text>
<text transform="translate(148.51 454.45) rotate(-90) scale(0.958 1)">LENS</text>
<text transform="translate(158.63 454.45) rotate(-90) scale(0.958 1)">LYON</text>
<text transform="translate(168.74 454.45) rotate(-90) scale(0.958 1)">MRS-lcp</text>
<text transform="translate(178.86 454.45) rotate(-90) scale(0.958 1)">NICE</text>
<text transform="translate(188.97 454.45) rotate(-90) scale(0.958 1)">NOGENT</text>
<text transform="translate(199.09 454.45) rotate(-90) scale(0.958 1)">PARIS-lcpp</text>
<text transform="translate(209.21 454.45) rotate(-90) scale(0.958 1)">PARIS-lh</text>
<text transform="translate(219.32 454.45) rotate(-90) scale(0.958 1)">ROUEN</text>
<text transform="translate(229.44 454.45) rotate(-90) scale(0.958 1)">TAL</text>
<text transform="translate(239.55 454.45) rotate(-90) scale(0.958 1)">ATH</text>
<text transform="translate(249.67 454.45) rotate(-90) scale(0.958 1)">RDAM</text>
<text transform="translate(259.79 454.45) rotate(-90) scale(0.958 1)">KRAK</text>
<text transform="translate(269.9 454.45) rotate(-90) scale(0.958 1)">KANAL</text>
<text transform="translate(280.02 454.45) rotate(-90) scale(0.958 1)">CALAIS</text>
<text transform="translate(290.13 454.45) rotate(-90) scale(0.958 1)">FSM</text>
<text transform="translate(300.25 454.45) rotate(-90) scale(0.958 1)">GSY</text>
<text transform="translate(310.37 454.45) rotate(-90) scale(0.958 1)">LHV</text>
<text transform="translate(320.48 454.45) rotate(-90) scale(0.958 1)">PDB</text>
<text transform="translate(330.6 454.45) rotate(-90) scale(0.958 1)">PASSY</text>
<text transform="translate(340.71 454.45) rotate(-90) scale(0.958 1)">BASEL</text>
<text transform="translate(350.83 454.45) rotate(-90) scale(0.958 1)">VIF</text>
<text transform="translate(360.95 454.45) rotate(-90) scale(0.958 1)">MGD</text>
<text transform="translate(371.06 454.45) rotate(-90) scale(0.958 1)">MARNAZ</text>
<text transform="translate(381.18 454.45) rotate(-90) scale(0.958 1)">COURMAY</text>
<text transform="translate(391.29 454.45) rotate(-90) scale(0.958 1)">PAYRN</text>
<text transform="translate(401.41 454.45) rotate(-90) scale(0.958 1)">MSY</text>
<text transform="translate(411.53 454.45) rotate(-90) scale(0.958 1)">ARREST</text>
<text transform="translate(421.64 454.45) rotate(-90) scale(0.958 1)">DIEPPE</text>
<text transform="translate(431.76 454.45) rotate(-90) scale(0.958 1)">OPE</text>
<text transform="translate(441.87 454.45) rotate(-90) scale(0.958 1)">PLOURZ</text>
</g>
<text transform="translate(241.2 269.1) scale(0.958 1)" text-anchor="middle">PM<tspan class="sm" font-size="6.7" dy="2.5">10</tspan></text>
<g stroke="#9c9c9c" stroke-width="0.75" fill="none">
<path d="M462.75 416.95V398M460.7 398H464.8"/>
<path d="M472.12 404.65V368.73M470.07 368.73H474.17"/>
<path d="M481.49 427.28V413.26M479.44 413.26H483.54"/>
<path d="M490.86 418.18V403.91M488.81 403.91H492.91"/>
<path d="M500.23 426.29V414.49M498.18 414.49H502.28"/>
<path d="M509.6 422.36V401.69M507.55 401.69H511.65"/>
<path d="M518.97 428.02V414.49M516.92 414.49H521.02"/>
<path d="M528.34 400.46V370.45M526.29 370.45H530.39"/>
<path d="M537.71 403.42V373.16M535.66 373.16H539.76"/>
<path d="M547.08 432.44V422.85M545.03 422.85H549.13"/>
<path d="M556.45 425.56V404.65M554.4 404.65H558.5"/>
<path d="M565.82 432.69V419.9M563.77 419.9H567.87"/>
<path d="M575.19 436.87V429.25M573.14 429.25H577.24"/>
<path d="M584.56 435.15V422.11M582.51 422.11H586.61"/>
</g>
<rect x="459.02" y="416.95" width="7.45" height="30.5" fill="#a88c3f"/>
<rect x="468.02" y="404.65" width="8.2" height="42.8" fill="#55a345"/>
<pattern id="h25b1" width="12.07" height="11.1" patternUnits="userSpaceOnUse" patternTransform="translate(468.02 429.4)"><path d="M-12.07 22.2L24.13 -11.1M-12.07 11.1L12.07 -11.1M0 22.2L24.13 0" stroke="#f4f4f4" stroke-width="1.4" stroke-opacity="0.9" fill="none"/></pattern>
<rect x="468.02" y="404.65" width="8.2" height="42.8" fill="url(#h25b1)" stroke="#fff" stroke-width="0.5"/>
<rect x="477.76" y="427.28" width="7.45" height="20.17" fill="#55a345"/>
<rect x="487.13" y="418.18" width="7.45" height="29.27" fill="#55a345"/>
<rect x="496.5" y="426.29" width="7.45" height="21.16" fill="#55a345"/>
<rect x="505.88" y="422.36" width="7.45" height="25.09" fill="#55a345"/>
<rect x="515.25" y="428.02" width="7.45" height="19.43" fill="#55a345"/>
<rect x="524.62" y="400.46" width="7.45" height="46.99" fill="#55a345"/>
<rect x="533.99" y="403.42" width="7.45" height="44.03" fill="#55a345"/>
<rect x="543.36" y="432.44" width="7.45" height="15.01" fill="#4e9bd6"/>
<rect x="552.35" y="425.56" width="8.2" height="21.89" fill="#da74e2"/>
<pattern id="h25b10" width="12.07" height="11.1" patternUnits="userSpaceOnUse" patternTransform="translate(552.35 434.4)"><path d="M-12.07 22.2L24.13 -11.1M-12.07 11.1L12.07 -11.1M0 22.2L24.13 0" stroke="#f4f4f4" stroke-width="1.4" stroke-opacity="0.9" fill="none"/></pattern>
<rect x="552.35" y="425.56" width="8.2" height="21.89" fill="url(#h25b10)" stroke="#fff" stroke-width="0.5"/>
<rect x="562.09" y="432.69" width="7.45" height="14.76" fill="#da74e2"/>
<rect x="571.47" y="436.87" width="7.45" height="10.58" fill="#da74e2"/>
<rect x="580.83" y="435.15" width="7.45" height="12.3" fill="#da74e2"/>
<g stroke="#707070" stroke-width="0.7">
<path d="M467.44 447.45v2.9"/>
<path d="M476.81 447.45v2.9"/>
<path d="M486.18 447.45v2.9"/>
<path d="M495.55 447.45v2.9"/>
<path d="M504.92 447.45v2.9"/>
<path d="M514.28 447.45v2.9"/>
<path d="M523.65 447.45v2.9"/>
<path d="M533.02 447.45v2.9"/>
<path d="M542.39 447.45v2.9"/>
<path d="M551.76 447.45v2.9"/>
<path d="M561.13 447.45v2.9"/>
<path d="M570.5 447.45v2.9"/>
<path d="M579.88 447.45v2.9"/>
<path d="M589.25 447.45v2.9"/>
</g>
<g class="st" font-size="7.2" font-weight="bold" letter-spacing="0.4" fill="#000">
<text transform="translate(466.2 445.78) rotate(-90)">***</text>
<text transform="translate(475.57 445.78) rotate(-90)">**</text>
<text transform="translate(484.94 445.78) rotate(-90)">*</text>
<text transform="translate(494.31 445.78) rotate(-90)">**</text>
<text transform="translate(503.68 445.78) rotate(-90)">**</text>
<text transform="translate(513.05 445.78) rotate(-90)">*</text>
<text transform="translate(522.42 445.78) rotate(-90)">****</text>
<text transform="translate(531.79 445.78) rotate(-90)">**</text>
<text transform="translate(541.16 445.78) rotate(-90)">*</text>
<text transform="translate(550.53 445.78) rotate(-90)">*</text>
<text transform="translate(559.9 445.78) rotate(-90)">**</text>
<text transform="translate(569.27 445.78) rotate(-90)">**</text>
<text transform="translate(578.64 445.78) rotate(-90)">**</text>
<text transform="translate(588.01 445.78) rotate(-90)">**</text>
</g>
<g fill="#000" stroke="#fff" stroke-width="0.5">
<circle cx="462.75" cy="416.7" r="3.05"/>
<circle cx="472.12" cy="367.01" r="3.05"/>
<circle cx="481.49" cy="420.88" r="3.05"/>
<circle cx="490.86" cy="407.6" r="3.05"/>
<circle cx="500.23" cy="419.9" r="3.05"/>
<circle cx="509.6" cy="416.7" r="3.05"/>
<circle cx="518.97" cy="421.62" r="3.05"/>
<circle cx="528.34" cy="386.93" r="3.05"/>
<circle cx="537.71" cy="410.55" r="3.05"/>
<circle cx="547.08" cy="421.37" r="3.05"/>
<circle cx="556.45" cy="421.37" r="3.05"/>
<circle cx="565.82" cy="423.59" r="3.05"/>
<circle cx="575.19" cy="423.59" r="3.05"/>
<circle cx="584.56" cy="426.05" r="3.05"/>
</g>
<g stroke="#5a5a5a" stroke-width="0.8" fill="none">
<path d="M450.9 275.3H592.5"/>
<path d="M450.9 447.45H592.5"/>
<path d="M455.5 275.3V447.45"/>
<path d="M592.5 275.3V447.45"/>
</g>
<g stroke="#5f5f5f" stroke-width="0.8">
<path d="M450.9 422.85H455.5"/>
<path d="M450.9 398.25H455.5"/>
<path d="M450.9 373.65H455.5"/>
<path d="M450.9 349.05H455.5"/>
<path d="M450.9 324.45H455.5"/>
<path d="M450.9 299.85H455.5"/>
</g>
<g text-anchor="end">
<text transform="translate(466.1 454.45) rotate(-90) scale(0.958 1)">BERN</text>
<text transform="translate(475.47 454.45) rotate(-90) scale(0.958 1)">SRJV</text>
<text transform="translate(484.84 454.45) rotate(-90) scale(0.958 1)">ZURICH</text>
<text transform="translate(494.21 454.45) rotate(-90) scale(0.958 1)">BCN</text>
<text transform="translate(503.58 454.45) rotate(-90) scale(0.958 1)">LILLE</text>
<text transform="translate(512.95 454.45) rotate(-90) scale(0.958 1)">PARIS-lcpp</text>
<text transform="translate(522.32 454.45) rotate(-90) scale(0.958 1)">PARIS-lh</text>
<text transform="translate(531.69 454.45) rotate(-90) scale(0.958 1)">ATH</text>
<text transform="translate(541.06 454.45) rotate(-90) scale(0.958 1)">BDP</text>
<text transform="translate(550.43 454.45) rotate(-90) scale(0.958 1)">BASEL</text>
<text transform="translate(559.8 454.45) rotate(-90) scale(0.958 1)">MGD</text>
<text transform="translate(569.17 454.45) rotate(-90) scale(0.958 1)">PAYRN</text>
<text transform="translate(578.54 454.45) rotate(-90) scale(0.958 1)">MSY</text>
<text transform="translate(587.91 454.45) rotate(-90) scale(0.958 1)">OPE</text>
</g>
<text transform="translate(524 269.1) scale(0.958 1)" text-anchor="middle">PM<tspan class="sm" font-size="6.7" dy="2.5">2.5</tspan></text>
<g stroke="#9c9c9c" stroke-width="0.75" fill="none">
<path d="M608.5 426.29V416.21M606.45 416.21H610.55"/>
<path d="M619.1 426.29V407.35M617.05 407.35H621.15"/>
<path d="M629.7 422.36V400.71M627.65 400.71H631.75"/>
<path d="M640.3 439.09V433.67M638.25 433.67H642.35"/>
</g>
<rect x="604.35" y="426.29" width="8.3" height="21.16" fill="#55a345"/>
<rect x="614.95" y="426.29" width="8.3" height="21.16" fill="#55a345"/>
<rect x="625.55" y="422.36" width="8.3" height="25.09" fill="#55a345"/>
<rect x="636.15" y="439.09" width="8.3" height="8.36" fill="#da74e2"/>
<g stroke="#707070" stroke-width="0.7">
<path d="M613.8 447.45v2.9"/>
<path d="M624.4 447.45v2.9"/>
<path d="M635 447.45v2.9"/>
<path d="M645.6 447.45v2.9"/>
</g>
<g class="st" font-size="7.2" font-weight="bold" letter-spacing="0.4" fill="#000">
<text transform="translate(611.95 445.78) rotate(-90)">*</text>
<text transform="translate(622.55 445.78) rotate(-90)">**</text>
<text transform="translate(633.15 445.78) rotate(-90)">*</text>
<text transform="translate(643.75 445.78) rotate(-90)">*</text>
</g>
<g fill="#000" stroke="#fff" stroke-width="0.5">
<circle cx="608.5" cy="411.78" r="3.05"/>
<circle cx="619.1" cy="413.99" r="3.05"/>
<circle cx="629.7" cy="398.99" r="3.05"/>
<circle cx="640.3" cy="424.57" r="3.05"/>
</g>
<g stroke="#5a5a5a" stroke-width="0.8" fill="none">
<path d="M596 275.3H653.1"/>
<path d="M596 447.45H653.1"/>
<path d="M600.6 275.3V447.45"/>
<path d="M648.5 275.3V447.45"/>
</g>
<g stroke="#5f5f5f" stroke-width="0.8">
<path d="M596 422.85H600.6"/>
<path d="M648.5 422.85H653.1"/>
<path d="M596 398.25H600.6"/>
<path d="M648.5 398.25H653.1"/>
<path d="M596 373.65H600.6"/>
<path d="M648.5 373.65H653.1"/>
<path d="M596 349.05H600.6"/>
<path d="M648.5 349.05H653.1"/>
<path d="M596 324.45H600.6"/>
<path d="M648.5 324.45H653.1"/>
<path d="M596 299.85H600.6"/>
<path d="M648.5 299.85H653.1"/>
</g>
<text transform="translate(656.4 450.15) scale(0.958 1)">0</text>
<text transform="translate(656.4 425.55) scale(0.958 1)">10</text>
<text transform="translate(656.4 400.95) scale(0.958 1)">20</text>
<text transform="translate(656.4 376.35) scale(0.958 1)">30</text>
<text transform="translate(656.4 351.75) scale(0.958 1)">40</text>
<text transform="translate(656.4 327.15) scale(0.958 1)">50</text>
<text transform="translate(656.4 302.55) scale(0.958 1)">60</text>
<text transform="translate(656.4 277.95) scale(0.958 1)">70</text>
<g text-anchor="end">
<text transform="translate(611.85 454.45) rotate(-90) scale(0.958 1)">BCN</text>
<text transform="translate(622.45 454.45) rotate(-90) scale(0.958 1)">MRS-lcp</text>
<text transform="translate(633.05 454.45) rotate(-90) scale(0.958 1)">KRAK</text>
<text transform="translate(643.65 454.45) rotate(-90) scale(0.958 1)">MSY</text>
</g>
<text transform="translate(624.55 269.1) scale(0.958 1)" text-anchor="middle">PM<tspan class="sm" font-size="6.7" dy="2.5">1</tspan></text>
<text x="0.4" y="268.6" font-size="10.4" font-weight="bold" fill="#000">b</text>
<text transform="translate(12 360.88) rotate(-90) scale(0.968 1)" text-anchor="middle">OP<tspan class="sm" font-size="6.1" dy="-4.9" dx="-0.9">DTT</tspan><tspan class="sm" font-size="6.4" dy="6.6" dx="-11.86">v</tspan><tspan dy="-1.7" dx="6.46"> (nmolDTT min</tspan><tspan class="sm" font-size="6.2" dy="-4.5">−</tspan><tspan class="sm" font-size="7" dy="0.2">1</tspan><tspan dy="4.3"> m</tspan><tspan class="sm" font-size="6.2" dy="-4.5">−</tspan><tspan class="sm" font-size="7" dy="0.2">3</tspan><tspan dy="4.3">)</tspan></text>
<circle cx="679.6" cy="387.57" r="3.05" fill="#000"/>
<text transform="translate(682.7 381.57) rotate(-90) scale(0.958 1)">PM (µg m<tspan class="sm" font-size="6.2" dy="-4.5">−</tspan><tspan class="sm" font-size="7" dy="0.2">3</tspan><tspan dy="4.3">)</tspan></text>
<rect x="92.3" y="24.1" width="19.7" height="6.7" fill="#a88c3f"/>
<text transform="translate(115.6 30.9) scale(0.958 1)">Traffic</text>
<rect x="92.3" y="35.82" width="19.7" height="6.7" fill="#55a345"/>
<text transform="translate(115.6 42.62) scale(0.958 1)">Urban</text>
<rect x="92.3" y="47.54" width="19.7" height="6.7" fill="#e67f93"/>
<text transform="translate(115.6 54.34) scale(0.958 1)">Industrial</text>
<rect x="92.3" y="59.26" width="19.7" height="6.7" fill="#4e9bd6"/>
<text transform="translate(115.6 66.06) scale(0.958 1)">Suburban</text>
<rect x="168.2" y="24.1" width="19.6" height="6.7" fill="#da74e2"/>
<text transform="translate(191.5 30.9) scale(0.958 1)">Rural</text>
<rect x="168.2" y="35.82" width="19.6" height="6.7" fill="#8c8c8c"/>
<path d="M168.2 40.3L171.7 36.1M175.1 42.8L180.8 36M184.3 42.8L187.6 38.9" stroke="#f4f4f4" stroke-width="1.2"/>
<text transform="translate(191.5 42.62) scale(0.958 1)">Valley</text>
<circle cx="177.8" cy="50.84" r="2.85" fill="#000"/>
<text transform="translate(191.5 54.34) scale(0.958 1)">PM mass</text>
</svg></body></html>
